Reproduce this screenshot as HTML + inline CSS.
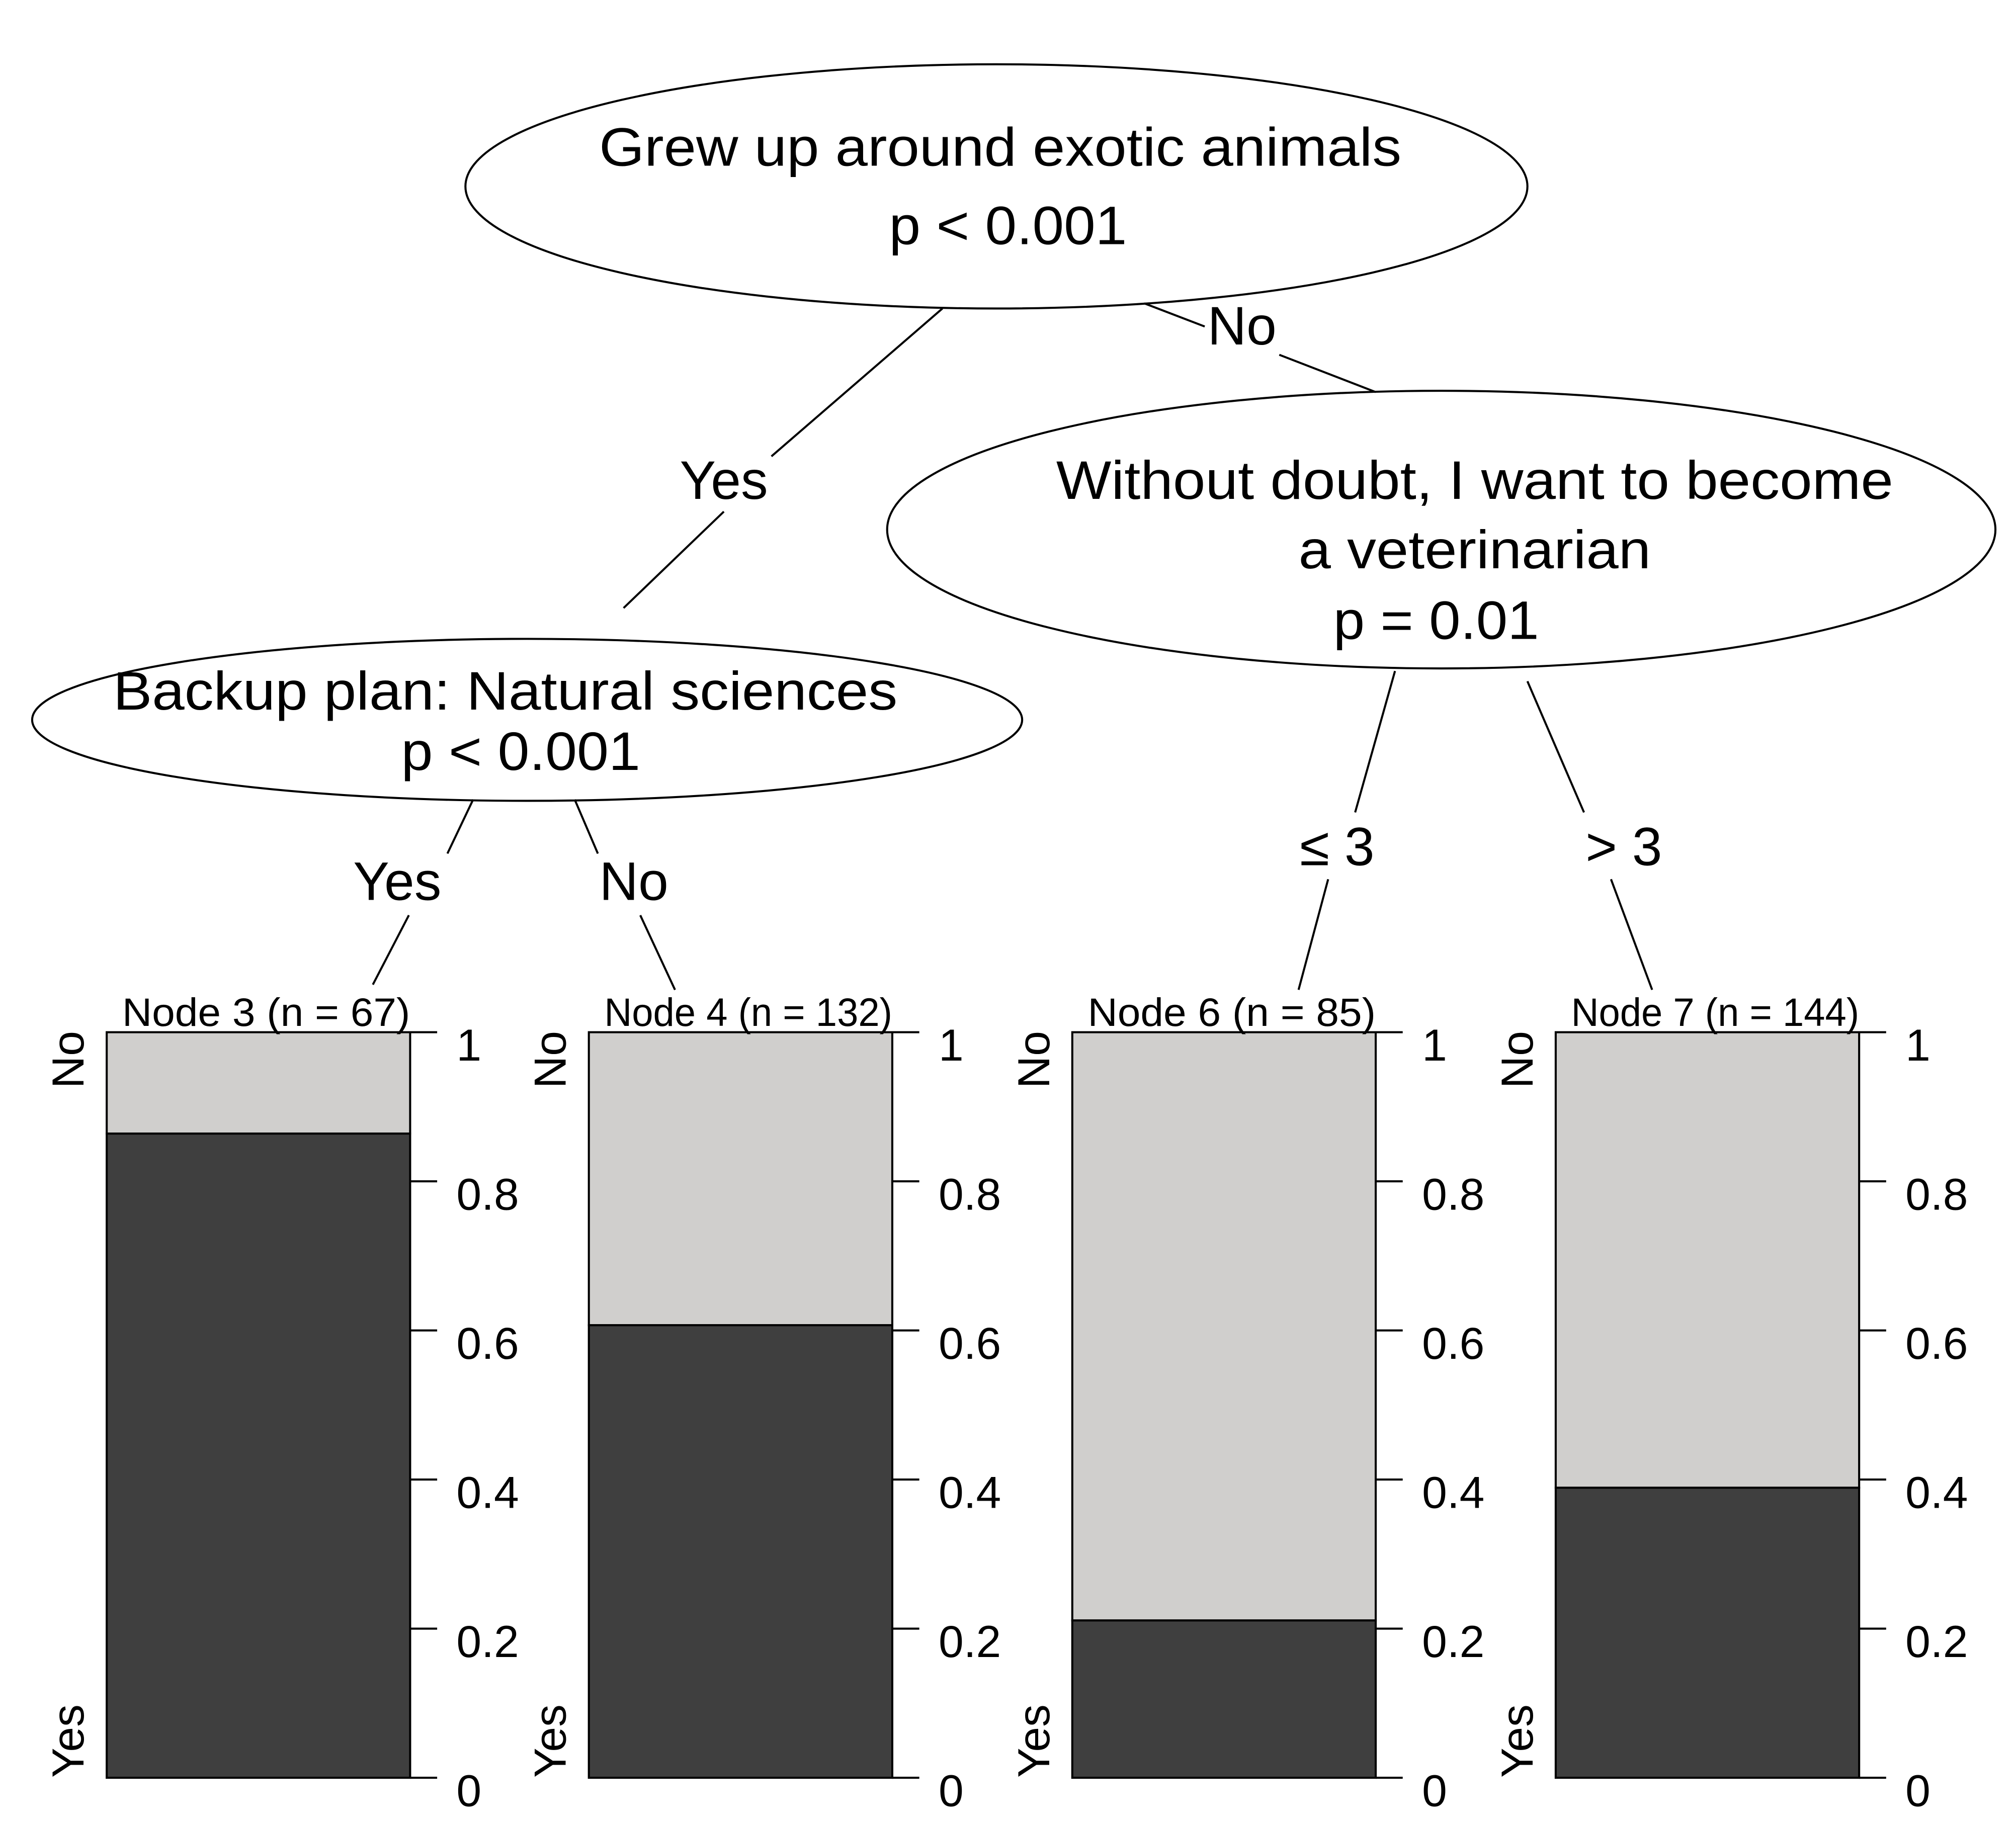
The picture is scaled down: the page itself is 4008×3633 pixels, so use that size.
<!DOCTYPE html>
<html><head><meta charset="utf-8"><style>
html,body{margin:0;padding:0;background:#fff;}
svg{display:block;}
text{font-family:"Liberation Sans",Arial,sans-serif;fill:#000;}
</style></head>
<body>
<svg id="chart" xmlns="http://www.w3.org/2000/svg" width="4008" height="3633" viewBox="0 0 1568 1421.3" preserveAspectRatio="none">
<rect x="0" y="0" width="1568" height="1421.3" fill="#fff"/>
<g id="tree" stroke="#000" stroke-width="1.6" fill="none">
  <ellipse cx="775" cy="145" rx="413" ry="95" fill="#fff"/>
  <ellipse cx="1121" cy="412" rx="431" ry="108" fill="#fff"/>
  <ellipse cx="410" cy="560" rx="385" ry="63" fill="#fff"/>
  <line x1="733" y1="240" x2="600" y2="355"/>
  <line x1="563" y1="398" x2="485" y2="473"/>
  <line x1="890" y1="236" x2="937" y2="254"/>
  <line x1="995" y1="276" x2="1070" y2="305"/>
  <line x1="368" y1="622" x2="348" y2="664"/>
  <line x1="318" y1="712" x2="290" y2="766"/>
  <line x1="447" y1="622" x2="465" y2="664"/>
  <line x1="498" y1="712" x2="525" y2="770"/>
  <line x1="1085" y1="522" x2="1054" y2="632"/>
  <line x1="1033" y1="684" x2="1010" y2="770"/>
  <line x1="1188" y1="530" x2="1232" y2="632"/>
  <line x1="1253" y1="684" x2="1285" y2="770"/>
</g>
<g font-size="42" text-anchor="middle">
  <text x="778" y="129" textLength="624" lengthAdjust="spacingAndGlyphs">Grew up around exotic animals</text>
  <text x="784" y="190" textLength="185" lengthAdjust="spacingAndGlyphs">p &lt; 0.001</text>
  <text x="1147" y="388" textLength="651" lengthAdjust="spacingAndGlyphs">Without doubt, I want to become</text>
  <text x="1147" y="442" textLength="274" lengthAdjust="spacingAndGlyphs">a veterinarian</text>
  <text x="1117" y="497" textLength="160" lengthAdjust="spacingAndGlyphs">p = 0.01</text>
  <text x="393" y="552" textLength="610" lengthAdjust="spacingAndGlyphs">Backup plan: Natural sciences</text>
  <text x="405" y="599" textLength="186" lengthAdjust="spacingAndGlyphs">p &lt; 0.001</text>
  <text x="563" y="388">Yes</text>
  <text x="966" y="268">No</text>
  <text x="309" y="700">Yes</text>
  <text x="493" y="700">No</text>
  <text x="1040" y="673">≤ 3</text>
  <text x="1263" y="673">&gt; 3</text>
</g>
<g id="bars"></g>
</svg>
<script>
const nodeNames = ["Node 3", "Node 4", "Node 6", "Node 7"];
const nodeCounts = [67, 132, 85, 144];
const yesShare = [0.864, 0.607, 0.211, 0.389];
const tickValues = [0, 0.2, 0.4, 0.6, 0.8, 1];
const tickLabels = ["0", "0.2", "0.4", "0.6", "0.8", "1"];

(function(){
const NS = "http://www.w3.org/2000/svg";
const g = document.getElementById('bars');
const panelLeft = [83, 458, 834, 1210];
const barW = 236, yTop = 803, yBottom = 1383;
function yScale(v){ return yBottom - v * (yBottom - yTop); }
function mk(tag, attrs){ const e = document.createElementNS(NS, tag); for (const k in attrs) e.setAttribute(k, attrs[k]); return e; }

nodeNames.forEach((nm, i) => {
  const x0 = panelLeft[i];
  const grp = mk('g', {});
  
  
  g.appendChild(grp);

  const light = mk('rect', {x: x0, y: yScale(1), width: barW, height: yScale(yesShare[i]) - yScale(1), fill: '#d0cfcd', stroke: '#000', 'stroke-width': 1.6});
  
  
  grp.appendChild(light);

  const dark = mk('rect', {x: x0, y: yScale(yesShare[i]), width: barW, height: yScale(0) - yScale(yesShare[i]), fill: '#3f3f3f', stroke: '#000', 'stroke-width': 1.6});
  
  
  grp.appendChild(dark);

  const title = mk('text', {x: x0 + 12, y: 798, 'font-size': 31, textLength: 224, lengthAdjust: 'spacingAndGlyphs'});
  title.textContent = nm + ' (n = ' + nodeCounts[i] + ')';
  
  
  grp.appendChild(title);

  const no = mk('text', {x: 0, y: 0, 'font-size': 35, 'text-anchor': 'end', transform: 'translate(' + (x0 - 18) + ',' + (yTop - 1) + ') rotate(-90)'});
  no.textContent = 'No';
  
  
  grp.appendChild(no);

  const yes = mk('text', {x: 0, y: 0, 'font-size': 35, 'text-anchor': 'start', transform: 'translate(' + (x0 - 18) + ',' + yBottom + ') rotate(-90)'});
  yes.textContent = 'Yes';
  
  
  grp.appendChild(yes);

  tickValues.forEach((tv, j) => {
    const ty = yScale(tv);
    const tk = mk('line', {x1: x0 + barW, x2: x0 + barW + 21, y1: ty, y2: ty, stroke: '#000', 'stroke-width': 1.6});
    
    
    grp.appendChild(tk);
    const lb = mk('text', {x: x0 + barW + 36, y: ty + 22, 'font-size': 35});
    lb.textContent = tickLabels[j];
    
    
    grp.appendChild(lb);
  });
});
})();
</script>
</body></html>
